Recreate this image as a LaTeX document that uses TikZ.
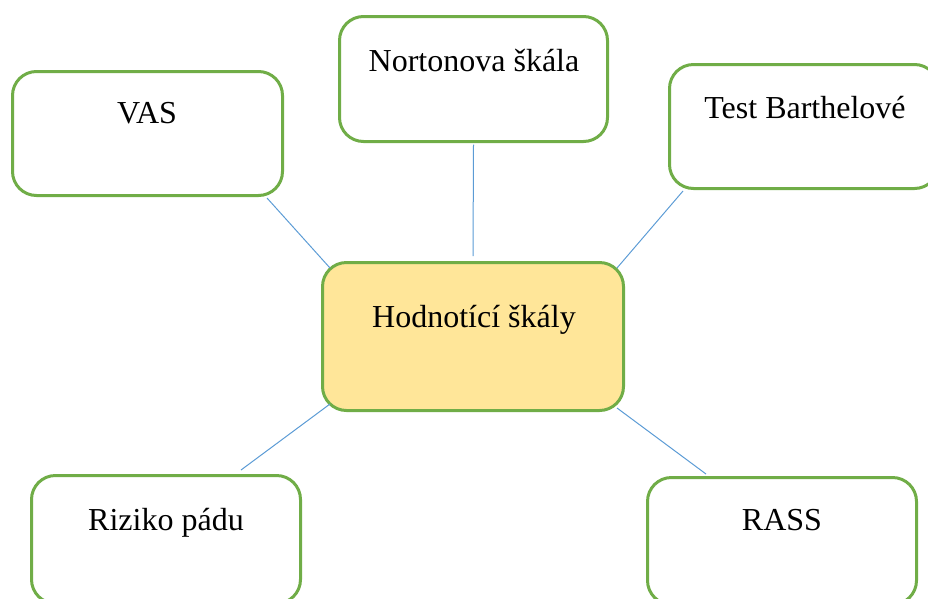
\documentclass[tikz,border=0pt]{standalone}
\usepackage{fontspec}
\setmainfont{Liberation Serif}
\usetikzlibrary{calc}
\definecolor{boxgreen}{HTML}{70AD47}
\definecolor{hubfill}{HTML}{FFE699}
\definecolor{linkblue}{HTML}{5B9BD5}
\begin{document}
\begin{tikzpicture}[x=1pt,y=-1pt,
  box/.style={draw=boxgreen, line width=3pt, rounded corners=24pt, fill=white, inner sep=0pt},
  txt/.style={anchor=base, inner sep=0pt, font=\fontsize{32}{37}\selectfont},
  link/.style={draw=linkblue, line width=1pt}]
\useasboundingbox (0,0) rectangle (928,598);
\node[box, minimum width=270pt, minimum height=124pt] (vas) at (147.5,133.5) {};
\node[box, minimum width=268pt, minimum height=125pt] (norton) at (473.5,79) {};
\node[box, minimum width=269pt, minimum height=124pt] (test) at (804,126.5) {};
\node[box, fill=hubfill, minimum width=301pt, minimum height=148pt] (hub) at (473,336.5) {};
\node[box, minimum width=269pt, minimum height=128pt] (riz) at (166,539.5) {};
\node[box, minimum width=269pt, minimum height=127pt] (rass) at (782,541) {};
\node[txt] (tvas) at (147,123) {VAS};
\node[txt] (tnorton) at (474,71) {Nortonova škála};
\node[txt] (ttest) at (805,118) {Test Barthelové};
\node[txt] (thub) at (474,327) {Hodnotící škály};
\node[txt] (triz) at (166,530) {Riziko pádu};
\node[txt] (trass) at (782,530) {RASS};
\draw[link] ($(vas.south east)+(-17,1)$) -- ($(hub.north west)+(9,7)$);
\draw[link] ($(norton.south)+(0,1.5)$) -- ($(hub.north)+(0,-5)$);
\draw[link] ($(test.south west)+(15,1)$) -- ($(hub.north east)+(-8,7)$);
\draw[link] ($(riz.north west)+(211,-4)$) -- ($(hub.south west)+(9,-8)$);
\draw[link] ($(rass.north west)+(60,-2)$) -- ($(hub.south east)+(-8,-4)$);
\end{tikzpicture}
\end{document}
